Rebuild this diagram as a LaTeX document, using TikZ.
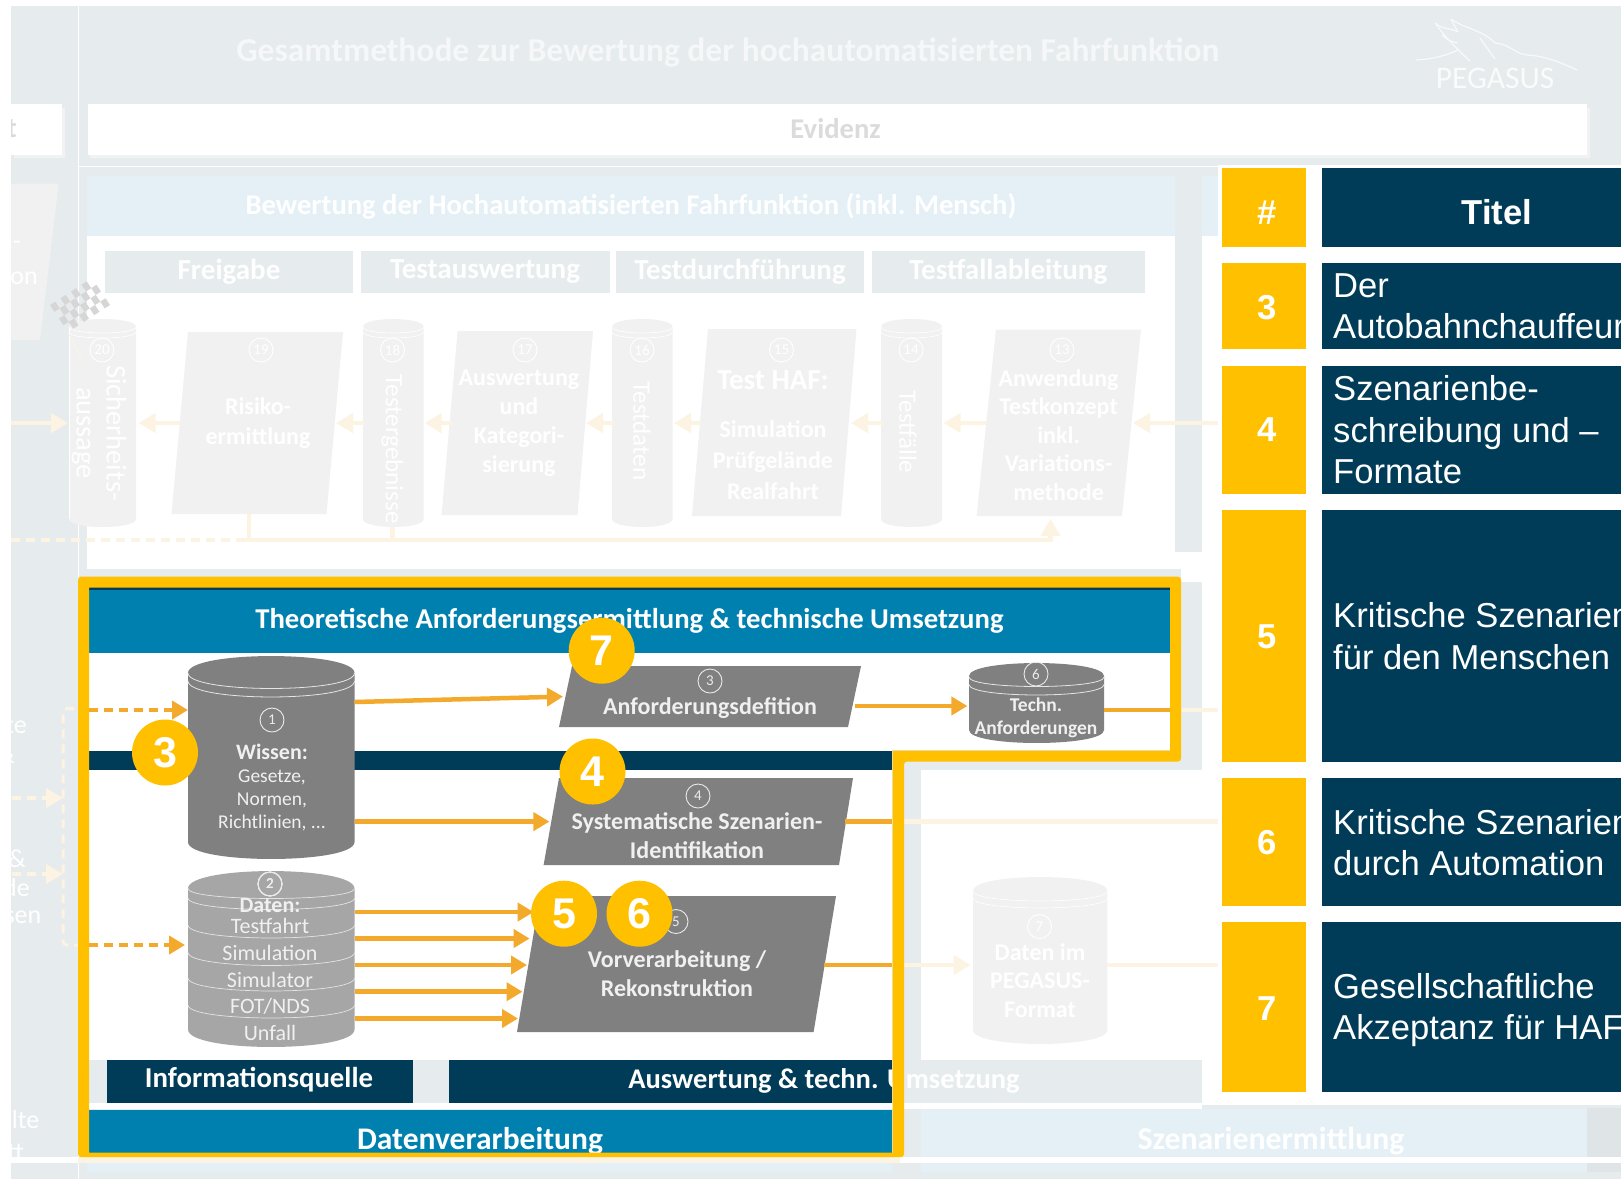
\documentclass[tikz,border=0pt]{standalone}
\usepackage{fontspec}
\setmainfont{Carlito}
\newfontfamily\arialfont{Liberation Sans}
\usetikzlibrary{calc,arrows.meta}
\definecolor{gelb}{HTML}{FFC000}
\definecolor{marine}{HTML}{003C58}
\definecolor{petrol}{HTML}{0080AE}
\definecolor{grau}{HTML}{808080}
\definecolor{hellgrau}{HTML}{A6A6A6}
\definecolor{flaeche}{HTML}{E6EBED}
\definecolor{hellblau}{HTML}{E4F0F5}
\definecolor{blass}{HTML}{F1F1F1}
\definecolor{pfeil}{HTML}{F3A92B}
\definecolor{pfeilblass}{HTML}{FDF3E3}
\newcommand{\sz}[2]{\fontsize{#1}{#2}\selectfont}
\newcommand{\boxn}[7]{%
  \pgfmathsetmacro\bw{#5-#3}\pgfmathsetmacro\bh{#6-#4}%
  \pgfmathsetmacro\bx{(#3+#5)/2}\pgfmathsetmacro\by{(#4+#6)/2}%
  \node[#1,minimum width=\bw pt,minimum height=\bh pt] (#2) at (\bx,\by) {#7};}
\newcommand{\lidarc}[5]{%
  \draw[#1] (#2,#4) .. controls (#2,#4+1.33*#5) and (#3,#4+1.33*#5) .. (#3,#4);}
\newcommand{\tonne}[7]{%
  \fill[#7] (#2,#3+#6) .. controls (#2,#3-0.33*#6) and (#4,#3-0.33*#6) .. (#4,#3+#6)
    -- (#4,#5-#6) .. controls (#4,#5+0.33*#6) and (#2,#5+0.33*#6) .. (#2,#5-#6) -- cycle;
  \boxn{zelle}{#1}{#2}{#3}{#4}{#5}{}}
\newcommand{\parall}[8]{%
  \fill[#8] (#2,#7) -- (#3,#6) -- (#4,#6) -- (#5,#7) -- cycle;
  \boxn{zelle}{#1}{#2}{#6}{#4}{#7}{}}
\tikzset{
  zelle/.style={rectangle,inner sep=0pt,outer sep=0pt},
  ring/.style={circle,draw=white!92!black,line width=0.9pt,inner sep=0pt,minimum size=24pt,text=white!92!black,font=\sz{15}{15}},
  ringblass/.style={ring,draw=white,text=white},
  weiss/.style={text=white,align=center,inner sep=0pt},
  hell/.style={text=white!94!black,align=center,inner sep=0pt},
  kopf/.style={zelle,fill=flaeche,text=white,font=\bfseries\sz{29}{29}},
  marke/.style={circle,fill=gelb,inner sep=0pt,minimum size=66pt,text=white,font=\arialfont\bfseries\sz{43}{43}},
  flow/.style={line width=4.5pt,draw=pfeil,-{Triangle[length=16pt,width=18pt]}},
  flowblass/.style={flow,draw=pfeilblass,-{Triangle[length=17pt,width=19pt]}},
  stub/.style={line width=4.5pt,draw=pfeil},
  stubblass/.style={line width=4.5pt,draw=pfeilblass},
  dash1/.style={dash pattern=on 9pt off 6pt},
  titeltext/.style={anchor=west,text=white,align=left,inner sep=0pt,font=\arialfont\sz{34.6}{41.5}},
  nummer/.style={text=white,inner sep=0pt,font=\arialfont\bfseries\sz{34.6}{34.6}},
  logostrich/.style={draw=white!70!flaeche,line width=1.2pt}
}
\begin{document}
\begin{tikzpicture}[x=1pt,y=-1pt]
\useasboundingbox (0,0) rectangle (1621,1179);
\fill[white] (0,0) rectangle (1621,1179);
\fill[flaeche] (11,6) rectangle (1621,1179);
\node[weiss,text=white!60!flaeche,font=\bfseries\sz{33.5}{33.5}] (gesamt) at (728,53) {Gesamtmethode zur Bewertung der hochautomatisierten Fahrfunktion};
\node[text=white!80!flaeche,inner sep=0pt,font=\sz{31.5}{31.5}] (pegasus) at (1495,78) {PEGASUS};
\draw[logostrich] (1416,60) .. controls (1435,59) and (1447,55) .. (1458,50);
\draw[logostrich] (1435,23) .. controls (1445,37) and (1458,50) .. (1470,61);
\draw[logostrich] (1435,23) .. controls (1443,30) and (1452,28) .. (1458,32);
\draw[logostrich] (1451,19) .. controls (1463,28) and (1483,30) .. (1495,43);
\draw[logostrich] (1451,19) .. controls (1453,24) and (1456,28) .. (1458,32);
\draw[logostrich] (1495,43) .. controls (1510,44) and (1515,54) .. (1527,55) .. controls (1545,56) and (1560,62) .. (1577,70);
\draw[logostrich] (1480,38) .. controls (1485,45) and (1490,52) .. (1495,59);
\draw[logostrich] (1442,35) .. controls (1447,40) and (1452,42) .. (1458,43);
\fill[black!5] (14,108) rectangle (65,158);
\fill[black!5] (90,108) rectangle (1590,158);
\boxn{zelle,fill=white}{evidenz}{88}{103.5}{1587}{154.5}{}
\node[text=black!14,font=\bfseries\sz{28.6}{28.6},inner sep=0pt] (tevidenz) at (835.6,129) {Evidenz};
\boxn{zelle,fill=white}{evidenzl}{11}{103.5}{62}{154.5}{}
\node[text=black!14,font=\bfseries\sz{28.6}{28.6},inner sep=0pt,anchor=east] (tlinks) at (17,129) {t};
\draw[white,line width=0.8pt] (78.5,6) -- (78.5,1179);
\draw[white,line width=0.8pt] (78.5,166) -- (1621,166);
\boxn{zelle,fill=hellblau,text=white,font=\bfseries\sz{28.6}{28.6}}{bewertung}{87}{176}{1175}{236}{Bewertung der Hochautomatisierten Fahrfunktion (inkl. Mensch)}
\fill[white] (87,236) rectangle (1175,569);
\fill[white] (1175,552) rectangle (1202,569);
\fill[hellblau] (1202,176) rectangle (1222,236);
\fill[white] (1202,236) rectangle (1222,1105);
\fill[blass] (11,183.5) -- (58.7,183.5) -- (40,340) -- (11,340) -- cycle;
\node[anchor=east,weiss,font=\sz{26}{26}] (ion) at (38,278) {on};
\node[anchor=east,weiss,font=\sz{26}{26}] (strich) at (21,245) {-};
\boxn{kopf}{freigabe}{105}{251}{353}{293}{Freigabe}
\boxn{kopf}{testausw}{360.5}{251}{609.5}{293}{Testauswertung}
\boxn{kopf}{testdurch}{616}{251}{864}{293}{Testdurchführung}
\boxn{kopf}{testfall}{871.5}{251}{1145}{293}{Testfallableitung}
\tonne{sicher}{69}{319}{136}{527}{8}{blass}
\tonne{ergebnis}{363}{319}{423.5}{527}{8}{blass}
\tonne{daten16}{612}{319}{672.5}{527}{8}{blass}
\tonne{faelle}{881}{319}{942}{527}{8}{blass}
\foreach \xa/\xb in {69/136,363/423.5,612/672.5,881/942}{
  \lidarc{white,line width=0.6pt}{\xa}{\xb}{327}{6}
  \lidarc{white,line width=0.6pt}{\xa}{\xb}{332}{6}
}
\draw[white,line width=0.6pt] (sicher.north west) ++(0,8) -- (69,519);
\foreach \i in {0,...,7}
  \foreach \j in {0,...,3}{
    \pgfmathtruncatemacro\parit{mod(\i+\j,2)}
    \ifnum\parit=0
      \fill[black!16] ($(50,305)+\i*(5.25,-3.375)+\j*(4.5,6.75)$) -- ++(5.25,-3.375) -- ++(4.5,6.75) -- ++(-5.25,3.375) -- cycle;
    \fi
  }
\draw[pfeilblass,line width=1pt] (68,332) -- (84,363);
\parall{risiko}{171.5}{188}{343}{326.5}{332}{514}{blass}
\parall{auswert}{441.6}{457.6}{593}{577.5}{331}{515}{blass}
\parall{hafbox}{692}{708}{856.5}{841}{329}{516}{blass}
\parall{anwend}{976.6}{996}{1141}{1122}{329.5}{516}{blass}
\foreach \nam/\xm/\nn in {r20/102/20,r19/261/19,r18/392.5/18,r17/525/17,r16/642/16,r15/781.5/15,r14/911/14,r13/1062/13}
  \node[ringblass] (\nam) at (\xm,350) {\nn};
\node[weiss,rotate=-90,font=\sz{28.5}{30}] (sicherheit) at (99,433) {Sicherheits-\\aussage};
\node[weiss,rotate=-90,font=\sz{25}{25}] (tergebnis) at (392.5,449) {Testergebnisse};
\node[weiss,rotate=-90,font=\sz{25}{25}] (tdaten) at (642,431) {Testdaten};
\node[weiss,rotate=-90,font=\sz{25}{25}] (tfaelle) at (908,432) {Testfälle};
\node[weiss,font=\bfseries\sz{24}{29.5}] (trisiko) at (258,423) {Risiko-\\ermittlung};
\node[weiss,font=\bfseries\sz{24}{29}] (tausw) at (519,423) {Auswertung\\und\\Kategori-\\sierung};
\node[weiss,font=\bfseries\sz{29}{29}] (thaf) at (773,380) {Test HAF:};
\node[weiss,font=\bfseries\sz{24}{31}] (tsim) at (773,460) {Simulation\\Prüfgelände\\Realfahrt};
\node[weiss,font=\bfseries\sz{24}{28.5}] (tanw) at (1058.6,435) {Anwendung\\Testkonzept\\inkl.\\Variations-\\methode};
\foreach \xa/\xb in {180/138.5,364/336,452/424.6,613.6/586,701/674,882.5/851,986/943.5,1218.7/1133,11/68}{
  \coordinate (s) at (\xa,423);
  \coordinate (z) at (\xb,423);
  \draw[flowblass] (s) -- (z);
}
\draw[stubblass,dash1] (11,540) -- (242,540);
\coordinate (ecke) at (1050.5,540);
\coordinate (eingang) at (1050.5,519);
\draw[flowblass] (242,540) -- (ecke) -- (eingang);
\draw[stubblass] (249,514) -- (249,540);
\draw[stubblass] (392.5,527) -- (392.5,540);
\fill[flaeche] (89,577) rectangle (1202,770);
\fill[white] (1181,569) rectangle (1202,582);
\fill[white] (89,653) rectangle (892,1060);
\fill[white] (892,653) rectangle (1170,750);
\fill[white] (921,770) rectangle (1202,1060);
\fill[flaeche] (892,1060) rectangle (1202,1103);
\fill[white] (89,1103) rectangle (1202,1109);
\fill[hellblau] (921,1109) rectangle (1587,1172);
\fill[black!3!flaeche] (1587,1108) rectangle (1621,1172);
\fill[hellblau] (87,1163) rectangle (892,1172);
\node[weiss,font=\bfseries\sz{31.8}{31.8}] (szenarien) at (1271,1141) {Szenarienermittlung};
\node[weiss,anchor=east,font=\sz{26}{26}] (links1) at (27,725) {te};
\node[weiss,anchor=east,font=\sz{26}{26}] (links2) at (15,755) {\&};
\node[weiss,anchor=east,font=\sz{26}{26}] (links3) at (26,859) {\&};
\node[weiss,anchor=east,font=\sz{26}{26}] (links4) at (30,888) {de};
\node[weiss,anchor=east,font=\sz{26}{26}] (links5) at (41.5,917.5) {sen};
\node[weiss,anchor=east,font=\sz{26}{26}] (links6) at (39.5,1119.5) {lte};
\node[weiss,anchor=east,font=\sz{26}{26}] (links7) at (24,1152) {tt};
\draw[stubblass,line width=3pt,dash1,rounded corners=4pt] (89,708.6) -- (63,708.6) -- (63,945) -- (89,945);
\foreach \ya in {798,874}{
  \coordinate (z) at (63,\ya);
  \draw[flowblass,line width=3.5pt,dash1] (12,\ya) -- (z);
}
\boxn{zelle,fill=marine}{balkenoben}{89}{587}{1170}{592}{}
\boxn{zelle,fill=petrol}{theoriebox}{89}{590}{1170}{653}{}
\node[weiss,font=\bfseries\sz{28.7}{28.7}] (theorie) at (629.5,621) {Theoretische Anforderungsermittlung \& technische Umsetzung};
\boxn{zelle,fill=marine}{balken}{89}{750.5}{892}{770}{}
\boxn{zelle,fill=marine}{infobox}{107}{1060}{413}{1103}{}
\node[weiss,font=\bfseries\sz{28.8}{28.8}] (infoq) at (259,1079.5) {Informationsquelle};
\boxn{zelle,fill=marine}{auswbox}{449}{1060}{892}{1103}{}
\node[weiss,font=\bfseries\sz{28.5}{28.5}] (auswtext) at (824,1081) {Auswertung \& techn. Umsetzung};
\boxn{zelle,fill=petrol}{datenvbox}{89}{1110}{892}{1153}{}
\node[weiss,font=\bfseries\sz{31.5}{31.5}] (datenv) at (480,1141) {Datenverarbeitung};
\tonne{wissen}{188}{656}{354.5}{859}{17}{grau}
\lidarc{white!80!grau,line width=0.8pt}{188}{354.5}{673}{15.5}
\lidarc{white!80!grau,line width=0.8pt}{188}{354.5}{681}{16}
\node[ring] (r1) at (272,720) {1};
\node[hell,font=\bfseries\sz{22}{22}] (twissen) at (272,751.5) {Wissen:};
\node[hell,font=\sz{19.5}{23}] (tgesetze) at (272,800) {Gesetze,\\Normen,\\Richtlinien, ...};
\tonne{daten}{188}{871}{354.5}{1047}{17.5}{hellgrau}
\lidarc{white!70!hellgrau,line width=0.7pt}{188}{354.5}{888.5}{10}
\lidarc{white!70!hellgrau,line width=0.7pt}{188}{354.5}{898}{11.5}
\foreach \yb in {925,952.5,978,1005}
  \lidarc{white!70!hellgrau,line width=0.7pt}{188}{354.5}{\yb}{13}
\node[ring] (r2) at (270,884) {2};
\node[hell,font=\bfseries\sz{22}{22}] (tdatenk) at (270,905) {Daten:};
\node[hell,font=\sz{22}{26.8}] (tdatenl) at (270,979.5) {Testfahrt\\Simulation\\Simulator\\FOT/NDS\\Unfall};
\parall{anf}{559}{572}{861}{848}{666}{727}{grau}
\node[ring] (r3) at (710,681) {3};
\node[hell,font=\bfseries\sz{24}{24}] (tanf) at (710,708) {Anforderungsdefition};
\parall{syst}{543.6}{559}{853}{839}{778}{865}{grau}
\node[ring] (r4) at (698,796) {4};
\node[hell,font=\bfseries\sz{24}{28.5}] (tsyst) at (697,835.5) {Systematische Szenarien-\\Identifikation};
\parall{vor}{517}{540}{836}{813.6}{896}{1032}{grau}
\node[ring] (r5) at (676,921.5) {5};
\node[hell,font=\bfseries\sz{24}{28.5}] (tvor) at (677,973.5) {Vorverarbeitung /\\Rekonstruktion};
\tonne{techn}{969}{663}{1104}{743}{13}{grau}
\lidarc{white!80!grau,line width=0.8pt}{969}{1104}{677}{9.5}
\lidarc{white!80!grau,line width=0.8pt}{969}{1104}{684.5}{10.5}
\node[ring] (r6) at (1036,674) {6};
\node[hell,font=\bfseries\sz{19.5}{23}] (ttechn) at (1036,718) {Techn.\\Anforderungen};
\tonne{pegformat}{973}{877}{1107.4}{1044}{14}{blass}
\lidarc{white,line width=0.6pt}{973}{1107.4}{891}{10}
\lidarc{white,line width=0.6pt}{973}{1107.4}{898}{10}
\node[ringblass] (r7) at (1039.5,926.5) {7};
\node[weiss,font=\bfseries\sz{24}{28.5}] (tpeg) at (1040,980.6) {Daten im\\PEGASUS-\\Format};
\coordinate (zanf) at (563,696.6);
\coordinate (zsyst) at (549.4,821.6);
\coordinate (ztechn) at (967.4,706);
\coordinate (zwissen) at (188,710);
\coordinate (zdaten) at (185,945);
\draw[flow] (wissen.east |- 0,702) -- (zanf);
\draw[flow] (wissen.east |- 0,821.6) -- (zsyst);
\foreach \ya/\xb in {912/533.6,938.5/529.6,965/527,991.7/522.5,1018.5/518}{
  \coordinate (z) at (\xb,\ya);
  \draw[flow] (daten.east |- z) -- (z);
}
\draw[flow] (854.5,706) -- (ztechn);
\draw[flow,dash1] (89,710) -- (zwissen);
\draw[flow,dash1] (89,945) -- (zdaten);
\coordinate (austechn) at (1218,710);
\coordinate (aussyst) at (1220,821.6);
\coordinate (auspeg) at (1220,965);
\draw[stubblass] (techn.east |- 0,710) -- (austechn);
\draw[stub] (techn.east |- 0,710) -- (1170,710);
\draw[stubblass] (845,821.6) -- (aussyst);
\draw[stub] (845,821.6) -- (892,821.6);
\coordinate (zpeg) at (970.6,965);
\draw[flowblass] (824,965) -- (zpeg);
\draw[stub] (824,965) -- (892,965);
\draw[stubblass] (pegformat.east |- 0,965) -- (auspeg);
\fill[white] (0,1157) rectangle (1621,1163);
\fill[pfeilblass] (78,1157) rectangle (900,1163);
\fill[gelb,even odd rule]
  [rounded corners=3pt] (78,576.6) -- (1181,576.6) -- (1181,761.5) -- (904,761.5) -- (904,1157) -- (78,1157) -- cycle
  [sharp corners] (89,587.5) -- (1170,587.5) -- (1170,750.5) -- (892.5,750.5) -- (892.5,1152.5) -- (89,1152.5) -- cycle;
\fill[white] (1218,165) rectangle (1621,1105);
\foreach \nr/\ya/\yb/\ym/\yt/\tit in {
  \#/167.5/246.5/213/212/{},
  3/263/349/308/306.5/{Der\\Autobahnchauffeur},
  4/365.5/493.5/430/430/{Szenarienbe-\\schreibung und –\\Formate},
  5/510/762/637/636/{Kritische Szenarien\\für den Menschen},
  6/778/906/843/842.5/{Kritische Szenarien\\durch Automation},
  7/922/1092/1009/1010/{Gesellschaftliche\\Akzeptanz für HAF}}{
  \boxn{zelle,fill=gelb}{nrz\ya}{1222}{\ya}{1306}{\yb}{}
  \boxn{zelle,fill=marine}{tiz\ya}{1322}{\ya}{1621}{\yb}{}
  \node[nummer] (nr\ya) at (1267.6,\ym) {\nr};
  \node[titeltext] (tit\ya) at (1333,\yt) {\tit};
}
\node[nummer] (titel) at (1497,212) {Titel};
\node[marke] (m3) at (165,752.5) {3};
\node[marke] (m4) at (592.5,771.5) {4};
\node[marke] (m7) at (601.7,650.7) {7};
\node[marke] (m5) at (564,913.7) {5};
\node[marke] (m6) at (639.5,913.7) {6};
\fill[white] (0,0) rectangle (11,1179);
\end{tikzpicture}
\end{document}
